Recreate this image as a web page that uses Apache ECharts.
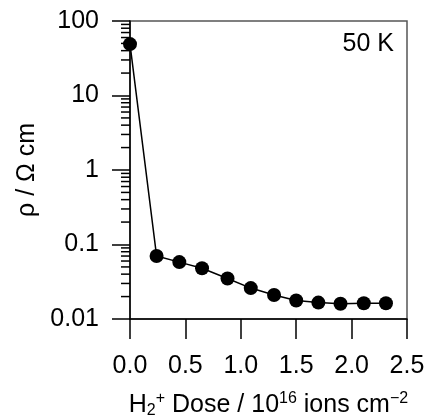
<!DOCTYPE html>
<html>
<head>
<meta charset="utf-8">
<script src="https://cdn.jsdelivr.net/npm/echarts@6/dist/echarts.min.js"></script>
<style>html,body{margin:0;padding:0;background:#fff;}#c{width:433px;height:419px;}</style>
</head>
<body>
<div id="c"></div>
<script>
// Data
const doseValues = [0, 0.24, 0.445, 0.65, 0.88, 1.09, 1.30, 1.50, 1.70, 1.90, 2.11, 2.31];
const resistivityValues = [49, 0.070, 0.058, 0.048, 0.035, 0.026, 0.021, 0.0177, 0.0166, 0.0160, 0.0163, 0.0163];
const xTicks = [0, 0.5, 1.0, 1.5, 2.0, 2.5];
const yTicks = [0.01, 0.1, 1, 10, 100];
const minorMantissas = [2, 3, 4, 5, 6, 7, 8, 9];
const minorDecades = [0.01, 0.1, 1, 10];
const tempLabel = '50 K';

const FONT = 'Liberation Sans, Arial, sans-serif';
const FS = 25;
const minorTicks = [];
minorDecades.forEach(d => minorMantissas.forEach(m => minorTicks.push([0, +(m * d).toPrecision(3)])));

const chart = echarts.init(document.getElementById('c'), null, {renderer: 'canvas'});
chart.setOption({
  animation: false,
  backgroundColor: '#fff',
  grid: {left: 130, right: 26, top: 21, bottom: 100, containLabel: false, outerBoundsMode: 'none',
         show: true, borderColor: '#555', borderWidth: 1.5, backgroundColor: 'transparent'},
  xAxis: {
    type: 'value', min: xTicks[0], max: xTicks[xTicks.length - 1], interval: 0.5,
    axisLine: {lineStyle: {color: '#000', width: 1.5}},
    axisTick: {inside: false, length: 20, lineStyle: {color: '#000', width: 1.5}},
    splitLine: {show: false},
    axisLabel: {color: '#000', fontSize: FS, fontFamily: FONT, margin: 35, formatter: v => v.toFixed(1)},
    name: '{n|H}{sub|2}{sup|+}{n| Dose / 10}{sup|16}{n| ions cm}{sup|\u22122}',
    nameLocation: 'middle', nameGap: 72,
    nameTextStyle: {
      color: '#000', fontSize: FS, fontFamily: FONT,
      rich: {
        n: {fontSize: FS, fontFamily: FONT, color: '#000'},
        sub: {fontSize: 16, fontFamily: FONT, color: '#000', verticalAlign: 'bottom', padding: [12, 0, 0, 0]},
        sup: {fontSize: 16, fontFamily: FONT, color: '#000', verticalAlign: 'top', padding: [0, 0, 10, 0]}
      }
    }
  },
  yAxis: {
    type: 'log', logBase: 10, min: yTicks[0], max: yTicks[yTicks.length - 1],
    axisLine: {lineStyle: {color: '#000', width: 1.5}},
    axisTick: {inside: false, length: 18, lineStyle: {color: '#000', width: 1.5}},
    splitLine: {show: false},
    axisLabel: {color: '#000', fontSize: FS, fontFamily: FONT, margin: 31, formatter: v => String(+(+v).toPrecision(3))},
    name: '\u03c1 / \u03a9 cm', nameLocation: 'middle', nameGap: 89, nameRotate: 90,
    nameTextStyle: {color: '#000', fontSize: FS, fontFamily: FONT}
  },
  graphic: [{
    type: 'text', right: 39, top: 32,
    style: {text: tempLabel, fontSize: FS, fontFamily: FONT, fill: '#000'}
  }],
  series: [{
    type: 'line',
    data: doseValues.map((x, i) => [x, resistivityValues[i]]),
    symbol: 'circle', symbolSize: 14,
    itemStyle: {color: '#000'},
    lineStyle: {color: '#000', width: 1.5},
    z: 5
  }, {
    type: 'custom',
    data: minorTicks,
    clip: false,
    silent: true,
    renderItem: (params, api) => {
      const p = api.coord([api.value(0), api.value(1)]);
      return {type: 'line', shape: {x1: p[0] - 9, y1: p[1], x2: p[0], y2: p[1]}, style: {stroke: '#000', lineWidth: 1.5}};
    }
  }]
});
</script>
</body>
</html>
